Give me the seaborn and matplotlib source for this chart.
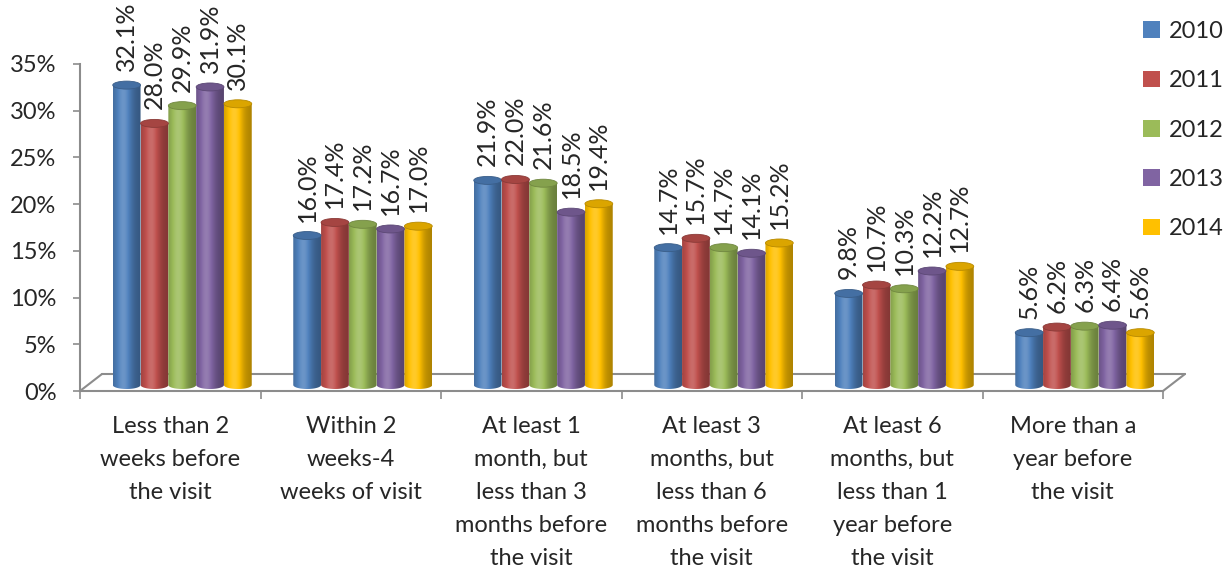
import numpy as np
import pandas as pd
import matplotlib
matplotlib.use("Agg")
import matplotlib.pyplot as plt
import seaborn as sns
from matplotlib.transforms import ScaledTranslation, IdentityTransform
from matplotlib.patches import Ellipse, PathPatch, Patch
from matplotlib.path import Path
from matplotlib.lines import Line2D

# ---- data -------------------------------------------------------------
categories = [
    "Less than 2\nweeks before\nthe visit",
    "Within 2\nweeks-4\nweeks of visit",
    "At least 1\nmonth, but\nless than 3\nmonths before\nthe visit",
    "At least 3\nmonths, but\nless than 6\nmonths before\nthe visit",
    "At least 6\nmonths, but\nless than 1\nyear before\nthe visit",
    "More than a\nyear before\nthe visit",
]
years = ["2010", "2011", "2012", "2013", "2014"]
share_2010 = [32.1, 16.0, 21.9, 14.7, 9.8, 5.6]
share_2011 = [28.0, 17.4, 22.0, 15.7, 10.7, 6.2]
share_2012 = [29.9, 17.2, 21.6, 14.7, 10.3, 6.3]
share_2013 = [31.9, 16.7, 18.5, 14.1, 12.2, 6.4]
share_2014 = [30.1, 17.0, 19.4, 15.2, 12.7, 5.6]
y_ticks = [0, 5, 10, 15, 20, 25, 30, 35]

colors = ["#4F81BD", "#C0504D", "#9BBB59", "#8064A2", "#FFC000"]

series = [share_2010, share_2011, share_2012, share_2013, share_2014]
df = pd.DataFrame(
    [(c, y, v) for y, vals in zip(years, series) for c, v in zip(categories, vals)],
    columns=["category", "year", "share"],
)

# ---- style ------------------------------------------------------------
sns.set_style("white")
plt.rcParams["font.family"] = ["Lato", "DejaVu Sans"]
FS = 17
FS_VAL = 18
GRAY = "#8c8c8c"

fig = plt.figure(figsize=(12.32, 5.71), dpi=100)
ax = fig.add_axes([80 / 1232, 180 / 571, (1163 - 80) / 1232, (391 - 64) / 571])

sns.barplot(data=df, x="category", y="share", hue="year", hue_order=years,
            order=categories, palette=colors, width=0.77, dodge=True,
            saturation=1, legend=False, ax=ax)

ax.set_xlim(-0.5, len(categories) - 0.5)
ax.set_ylim(0, 35)

# 3D look: bars stand mid-depth on the floor, so they are drawn shifted right/up
bar_trans = ax.transData + ScaledTranslation(12 / 100, 6 / 100, fig.dpi_scale_trans)
back_trans = ax.transData + ScaledTranslation(22 / 100, 17 / 100, fig.dpi_scale_trans)

px_per_unit = (391 - 64) / 35.0
cap_h = 8.0 / px_per_unit  # ellipse height in data units


def cylinder_rgb(color, n=64):
    c = np.array(matplotlib.colors.to_rgb(color))
    t = np.linspace(0, 1, n)
    f = 0.78 + 0.38 * np.exp(-((t - 0.38) / 0.3) ** 2) - 0.1 * t
    out = np.where(f[:, None] > 1, c + (1 - c) * (f[:, None] - 1) * 1.3, c * f[:, None])
    return np.clip(out, 0, 1)[None, :, :]


for container, col in zip(ax.containers, colors):
    grad = cylinder_rgb(col)
    base = np.array(matplotlib.colors.to_rgb(col))
    for rect in container:
        x0, w, h = rect.get_x(), rect.get_width(), rect.get_height()
        xc = x0 + w / 2
        rect.set_visible(False)
        # capsule outline: straight sides + rounded bottom
        th = np.linspace(np.pi, 2 * np.pi, 30)
        arc = np.column_stack([xc + w / 2 * np.cos(th), cap_h / 2 * np.sin(th)])
        verts = np.vstack([[x0, h], [x0, 0], arc, [x0 + w, h], [x0, h]])
        codes = [Path.MOVETO] + [Path.LINETO] * (len(verts) - 2) + [Path.CLOSEPOLY]
        body = PathPatch(Path(verts, codes), transform=bar_trans,
                         facecolor="none", edgecolor="none")
        ax.add_patch(body)
        im = ax.imshow(grad, extent=(x0, x0 + w, -cap_h, h), aspect="auto",
                       interpolation="bilinear", zorder=2)
        im.set_transform(bar_trans)
        im.set_clip_path(body)
        top = Ellipse((xc, h), w, cap_h, transform=bar_trans,
                      facecolor=base * 0.86, edgecolor=base * 0.72, lw=0.6, zorder=3)
        ax.add_patch(top)
        ax.annotate(f"{h:.1f}%", xy=(xc, h), xytext=(12 * 0.72, 20 * 0.72),
                    textcoords="offset points", rotation=90, ha="center",
                    va="bottom", fontsize=FS_VAL, annotation_clip=False)

ax.set_xlim(-0.5, len(categories) - 0.5)
ax.set_ylim(0, 35)

# floor of the 3D plot
x_lo, x_hi = -0.5, len(categories) - 0.5
ax.plot([x_lo, x_hi], [0, 0], transform=back_trans, color=GRAY, lw=1.5,
        clip_on=False, zorder=0.5)
for xe in (x_lo, x_hi):
    p0 = ax.transData.transform((xe, 0))
    p1 = back_trans.transform((xe, 0))
    fig.add_artist(Line2D([p0[0], p1[0]], [p0[1], p1[1]], transform=IdentityTransform(),
                          color=GRAY, lw=1.5, zorder=0.5))

# axes
for s in ("top", "right"):
    ax.spines[s].set_visible(False)
for s in ("left", "bottom"):
    ax.spines[s].set_color(GRAY)
    ax.spines[s].set_linewidth(1.5)

ax.set_yticks(y_ticks)
ax.set_yticklabels([f"{v}%" for v in y_ticks])
ax.tick_params(axis="y", direction="out", length=5, width=1.2, color=GRAY,
               labelsize=FS, pad=12, left=True)

ax.set_xticks(range(len(categories)))
ax.set_xticklabels(categories, fontsize=FS, linespacing=1.7, va="top")
ax.set_xticks(np.arange(-0.5, len(categories)), minor=True)
ax.tick_params(axis="x", which="major", length=0, pad=18)
ax.tick_params(axis="x", which="minor", direction="out", length=6, width=1.2,
               color=GRAY, bottom=True)
ax.set_xlabel("")
ax.set_ylabel("")

handles = [Patch(facecolor=c, edgecolor="none") for c in colors]
fig.legend(handles, years, loc="upper left", bbox_to_anchor=(1143 / 1232, 1 - 21 / 571),
           frameon=False, fontsize=FS, handlelength=0.7, handleheight=0.7,
           handletextpad=0.4, labelspacing=1.2, borderpad=0, borderaxespad=0)

fig.savefig("out.png", dpi=100)
